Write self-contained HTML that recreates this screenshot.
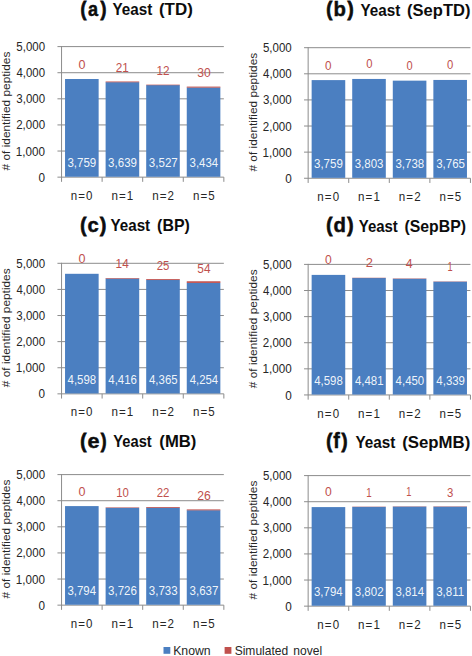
<!DOCTYPE html>
<html><head><meta charset="utf-8"><title>Yeast identified peptides</title>
<style>
html,body{margin:0;padding:0;background:#fff;}
body{width:472px;height:656px;overflow:hidden;}
svg{display:block;}
text{font-family:"Liberation Sans",sans-serif;}
.ax{fill:#262626;}
.wl{fill:#fff;fill-opacity:0.93;}
.rl{fill:#c0504d;}
.tb{fill:#0c0c0c;font-weight:bold;stroke:#0c0c0c;stroke-width:0.45px;}
.tp{fill:#0c0c0c;font-weight:bold;stroke:#0c0c0c;stroke-width:0.8px;}
.ts{fill:#0c0c0c;font-weight:bold;}
.lg{fill:#262626;}
</style></head><body>
<svg width="472" height="656" viewBox="0 0 472 656">
<rect x="0" y="0" width="472" height="656" fill="#fff"/>
<g id="chart-a">
<line x1="57.45" y1="46.60" x2="223.85" y2="46.60" stroke="#8c8c8c" stroke-width="1"/>
<line x1="57.45" y1="72.71" x2="223.85" y2="72.71" stroke="#8c8c8c" stroke-width="1"/>
<line x1="57.45" y1="98.82" x2="223.85" y2="98.82" stroke="#8c8c8c" stroke-width="1"/>
<line x1="57.45" y1="124.93" x2="223.85" y2="124.93" stroke="#8c8c8c" stroke-width="1"/>
<line x1="57.45" y1="151.04" x2="223.85" y2="151.04" stroke="#8c8c8c" stroke-width="1"/>
<line x1="57.45" y1="177.15" x2="223.85" y2="177.15" stroke="#8c8c8c" stroke-width="1"/>
<line x1="61.55" y1="46.10" x2="61.55" y2="181.85" stroke="#8c8c8c" stroke-width="1"/>
<line x1="102.12" y1="177.15" x2="102.12" y2="181.85" stroke="#8c8c8c" stroke-width="1"/>
<line x1="142.70" y1="177.15" x2="142.70" y2="181.85" stroke="#8c8c8c" stroke-width="1"/>
<line x1="183.28" y1="177.15" x2="183.28" y2="181.85" stroke="#8c8c8c" stroke-width="1"/>
<line x1="223.85" y1="177.15" x2="223.85" y2="181.85" stroke="#8c8c8c" stroke-width="1"/>
<rect x="65.04" y="79.00" width="33.60" height="97.75" fill="#4b7fc1"/>
<text class="wl" transform="translate(67.40,166.95) scale(0.9018,1)" font-size="12.80">3,759</text>
<text class="ax" transform="translate(70.77,199.75) scale(0.8944,1)" font-size="12.90" style="letter-spacing:1.20px;">n=0</text>
<text class="rl" transform="translate(78.51,68.68) scale(1.0333,1)" font-size="12.15">0</text>
<rect x="105.61" y="82.14" width="33.60" height="94.61" fill="#4b7fc1"/>
<rect x="105.61" y="81.49" width="33.60" height="0.80" fill="#c0504d"/>
<text class="wl" transform="translate(108.11,166.95) scale(0.9018,1)" font-size="12.80">3,639</text>
<text class="ax" transform="translate(111.48,199.75) scale(0.8993,1)" font-size="12.90" style="letter-spacing:1.20px;">n=1</text>
<text class="rl" transform="translate(115.81,71.87) scale(0.9240,1)" font-size="12.71">21</text>
<rect x="146.19" y="85.06" width="33.60" height="91.69" fill="#4b7fc1"/>
<rect x="146.19" y="84.65" width="33.60" height="0.56" fill="#c0504d"/>
<text class="wl" transform="translate(148.83,166.95) scale(0.9029,1)" font-size="12.80">3,527</text>
<text class="ax" transform="translate(152.20,199.75) scale(0.9000,1)" font-size="12.90" style="letter-spacing:1.20px;">n=2</text>
<text class="rl" transform="translate(156.40,74.67) scale(0.9155,1)" font-size="12.85">12</text>
<rect x="186.76" y="87.49" width="33.60" height="89.26" fill="#4b7fc1"/>
<rect x="186.76" y="86.60" width="33.60" height="1.03" fill="#c0504d"/>
<text class="wl" transform="translate(189.55,166.95) scale(0.8951,1)" font-size="12.80">3,434</text>
<text class="ax" transform="translate(192.92,199.75) scale(0.8958,1)" font-size="12.90" style="letter-spacing:1.20px;">n=5</text>
<text class="rl" transform="translate(197.24,77.17) scale(0.9395,1)" font-size="12.85">30</text>
<text class="ax" transform="translate(16.29,51.15) scale(0.8925,1)" font-size="12.90">5,000</text>
<text class="ax" transform="translate(16.49,77.26) scale(0.8862,1)" font-size="12.90">4,000</text>
<text class="ax" transform="translate(16.31,103.37) scale(0.8918,1)" font-size="12.90">3,000</text>
<text class="ax" transform="translate(16.17,129.48) scale(0.8963,1)" font-size="12.90">2,000</text>
<text class="ax" transform="translate(15.86,155.59) scale(0.9060,1)" font-size="12.90">1,000</text>
<text class="ax" transform="translate(38.59,181.70) scale(0.9081,1)" font-size="12.90">0</text>
<text class="ax" transform="translate(9.95,111.17) rotate(-90) translate(-59.25,0.00) scale(1.1533,1)" font-size="10.30"># of identified peptides</text>
<text class="tp" transform="translate(80.58,16.34) scale(0.8658,1)" font-size="20.26">(</text>
<text class="tb" transform="translate(87.89,16.17) scale(0.9234,1)" font-size="19.60">a</text>
<text class="tp" transform="translate(100.38,16.34) scale(0.8746,1)" font-size="20.26">)</text>
<text class="ts" transform="translate(112.54,14.60) scale(0.9641,1)" font-size="15.80">Yeast</text>
<text class="ts" transform="translate(158.96,14.60) scale(1.0465,1)" font-size="16.20">(TD)</text>
</g>
<g id="chart-b">
<line x1="304.05" y1="47.70" x2="470.45" y2="47.70" stroke="#8c8c8c" stroke-width="1"/>
<line x1="304.05" y1="73.81" x2="470.45" y2="73.81" stroke="#8c8c8c" stroke-width="1"/>
<line x1="304.05" y1="99.92" x2="470.45" y2="99.92" stroke="#8c8c8c" stroke-width="1"/>
<line x1="304.05" y1="126.03" x2="470.45" y2="126.03" stroke="#8c8c8c" stroke-width="1"/>
<line x1="304.05" y1="152.14" x2="470.45" y2="152.14" stroke="#8c8c8c" stroke-width="1"/>
<line x1="304.05" y1="178.25" x2="470.45" y2="178.25" stroke="#8c8c8c" stroke-width="1"/>
<line x1="308.15" y1="47.20" x2="308.15" y2="182.95" stroke="#8c8c8c" stroke-width="1"/>
<line x1="348.72" y1="178.25" x2="348.72" y2="182.95" stroke="#8c8c8c" stroke-width="1"/>
<line x1="389.30" y1="178.25" x2="389.30" y2="182.95" stroke="#8c8c8c" stroke-width="1"/>
<line x1="429.88" y1="178.25" x2="429.88" y2="182.95" stroke="#8c8c8c" stroke-width="1"/>
<line x1="470.45" y1="178.25" x2="470.45" y2="182.95" stroke="#8c8c8c" stroke-width="1"/>
<rect x="311.64" y="80.10" width="33.60" height="97.75" fill="#4b7fc1"/>
<text class="wl" transform="translate(314.00,168.05) scale(0.9018,1)" font-size="12.80">3,759</text>
<text class="ax" transform="translate(317.37,200.85) scale(0.8944,1)" font-size="12.90" style="letter-spacing:1.20px;">n=0</text>
<text class="rl" transform="translate(325.04,69.57) scale(0.9319,1)" font-size="12.57">0</text>
<rect x="352.21" y="78.95" width="33.60" height="98.90" fill="#4b7fc1"/>
<text class="wl" transform="translate(354.71,168.05) scale(0.9005,1)" font-size="12.80">3,803</text>
<text class="ax" transform="translate(358.08,200.85) scale(0.8993,1)" font-size="12.90" style="letter-spacing:1.20px;">n=1</text>
<text class="rl" transform="translate(366.36,68.07) scale(0.8986,1)" font-size="12.57">0</text>
<rect x="392.79" y="80.65" width="33.60" height="97.20" fill="#4b7fc1"/>
<text class="wl" transform="translate(395.43,168.05) scale(0.9004,1)" font-size="12.80">3,738</text>
<text class="ax" transform="translate(398.80,200.85) scale(0.9000,1)" font-size="12.90" style="letter-spacing:1.20px;">n=2</text>
<text class="rl" transform="translate(406.47,70.27) scale(0.8722,1)" font-size="12.71">0</text>
<rect x="433.36" y="79.95" width="33.60" height="97.90" fill="#4b7fc1"/>
<text class="wl" transform="translate(436.14,168.05) scale(0.8998,1)" font-size="12.80">3,765</text>
<text class="ax" transform="translate(439.52,200.85) scale(0.8958,1)" font-size="12.90" style="letter-spacing:1.20px;">n=5</text>
<text class="rl" transform="translate(446.96,69.08) scale(0.9193,1)" font-size="12.29">0</text>
<text class="ax" transform="translate(262.89,52.25) scale(0.8925,1)" font-size="12.90">5,000</text>
<text class="ax" transform="translate(263.09,78.36) scale(0.8862,1)" font-size="12.90">4,000</text>
<text class="ax" transform="translate(262.91,104.47) scale(0.8918,1)" font-size="12.90">3,000</text>
<text class="ax" transform="translate(262.77,130.58) scale(0.8963,1)" font-size="12.90">2,000</text>
<text class="ax" transform="translate(262.46,156.69) scale(0.9060,1)" font-size="12.90">1,000</text>
<text class="ax" transform="translate(285.19,182.80) scale(0.9081,1)" font-size="12.90">0</text>
<text class="ax" transform="translate(256.55,112.28) rotate(-90) translate(-59.25,0.00) scale(1.1533,1)" font-size="10.30"># of identified peptides</text>
<text class="tp" transform="translate(326.30,16.34) scale(0.8921,1)" font-size="20.26">(</text>
<text class="tb" transform="translate(333.58,16.17) scale(0.9874,1)" font-size="20.60">b</text>
<text class="tp" transform="translate(347.38,16.34) scale(0.9095,1)" font-size="20.26">)</text>
<text class="ts" transform="translate(360.54,15.60) scale(0.9641,1)" font-size="15.80">Yeast</text>
<text class="ts" transform="translate(407.08,15.60) scale(1.0202,1)" font-size="16.20">(SepTD)</text>
</g>
<g id="chart-c">
<line x1="57.45" y1="263.30" x2="223.85" y2="263.30" stroke="#8c8c8c" stroke-width="1"/>
<line x1="57.45" y1="289.41" x2="223.85" y2="289.41" stroke="#8c8c8c" stroke-width="1"/>
<line x1="57.45" y1="315.52" x2="223.85" y2="315.52" stroke="#8c8c8c" stroke-width="1"/>
<line x1="57.45" y1="341.63" x2="223.85" y2="341.63" stroke="#8c8c8c" stroke-width="1"/>
<line x1="57.45" y1="367.74" x2="223.85" y2="367.74" stroke="#8c8c8c" stroke-width="1"/>
<line x1="57.45" y1="393.85" x2="223.85" y2="393.85" stroke="#8c8c8c" stroke-width="1"/>
<line x1="61.55" y1="262.80" x2="61.55" y2="398.55" stroke="#8c8c8c" stroke-width="1"/>
<line x1="102.12" y1="393.85" x2="102.12" y2="398.55" stroke="#8c8c8c" stroke-width="1"/>
<line x1="142.70" y1="393.85" x2="142.70" y2="398.55" stroke="#8c8c8c" stroke-width="1"/>
<line x1="183.28" y1="393.85" x2="183.28" y2="398.55" stroke="#8c8c8c" stroke-width="1"/>
<line x1="223.85" y1="393.85" x2="223.85" y2="398.55" stroke="#8c8c8c" stroke-width="1"/>
<rect x="65.04" y="273.80" width="33.60" height="119.65" fill="#4b7fc1"/>
<text class="wl" transform="translate(67.57,383.65) scale(0.8948,1)" font-size="12.80">4,598</text>
<text class="ax" transform="translate(70.77,416.45) scale(0.8944,1)" font-size="12.90" style="letter-spacing:1.20px;">n=0</text>
<text class="rl" transform="translate(78.51,263.18) scale(1.0455,1)" font-size="12.01">0</text>
<rect x="105.61" y="278.55" width="33.60" height="114.90" fill="#4b7fc1"/>
<rect x="105.61" y="278.08" width="33.60" height="0.62" fill="#c0504d"/>
<text class="wl" transform="translate(108.29,383.65) scale(0.8949,1)" font-size="12.80">4,416</text>
<text class="ax" transform="translate(111.48,416.45) scale(0.8993,1)" font-size="12.90" style="letter-spacing:1.20px;">n=1</text>
<text class="rl" transform="translate(115.60,268.37) scale(0.9402,1)" font-size="12.57">14</text>
<rect x="146.19" y="279.88" width="33.60" height="113.57" fill="#4b7fc1"/>
<rect x="146.19" y="279.13" width="33.60" height="0.90" fill="#c0504d"/>
<text class="wl" transform="translate(149.00,383.65) scale(0.8942,1)" font-size="12.80">4,365</text>
<text class="ax" transform="translate(152.20,416.45) scale(0.9000,1)" font-size="12.90" style="letter-spacing:1.20px;">n=2</text>
<text class="rl" transform="translate(156.73,269.97) scale(0.8848,1)" font-size="12.85">25</text>
<rect x="186.76" y="282.78" width="33.60" height="110.67" fill="#4b7fc1"/>
<rect x="186.76" y="281.27" width="33.60" height="1.66" fill="#c0504d"/>
<text class="wl" transform="translate(189.72,383.65) scale(0.8896,1)" font-size="12.80">4,254</text>
<text class="ax" transform="translate(192.92,416.45) scale(0.8958,1)" font-size="12.90" style="letter-spacing:1.20px;">n=5</text>
<text class="rl" transform="translate(197.32,272.77) scale(0.9250,1)" font-size="12.85">54</text>
<text class="ax" transform="translate(16.29,267.85) scale(0.8925,1)" font-size="12.90">5,000</text>
<text class="ax" transform="translate(16.49,293.96) scale(0.8862,1)" font-size="12.90">4,000</text>
<text class="ax" transform="translate(16.31,320.07) scale(0.8918,1)" font-size="12.90">3,000</text>
<text class="ax" transform="translate(16.17,346.18) scale(0.8963,1)" font-size="12.90">2,000</text>
<text class="ax" transform="translate(15.86,372.29) scale(0.9060,1)" font-size="12.90">1,000</text>
<text class="ax" transform="translate(38.59,398.40) scale(0.9081,1)" font-size="12.90">0</text>
<text class="ax" transform="translate(9.95,327.88) rotate(-90) translate(-59.25,0.00) scale(1.1533,1)" font-size="10.30"># of identified peptides</text>
<text class="tp" transform="translate(80.28,232.29) scale(0.9000,1)" font-size="20.47">(</text>
<text class="tb" transform="translate(87.44,232.18) scale(1.0303,1)" font-size="19.60">c</text>
<text class="tp" transform="translate(100.08,232.29) scale(0.9173,1)" font-size="20.47">)</text>
<text class="ts" transform="translate(110.54,231.20) scale(0.9593,1)" font-size="15.80">Yeast</text>
<text class="ts" transform="translate(157.11,231.20) scale(0.9817,1)" font-size="16.20">(BP)</text>
</g>
<g id="chart-d">
<line x1="304.05" y1="264.40" x2="470.45" y2="264.40" stroke="#8c8c8c" stroke-width="1"/>
<line x1="304.05" y1="290.51" x2="470.45" y2="290.51" stroke="#8c8c8c" stroke-width="1"/>
<line x1="304.05" y1="316.62" x2="470.45" y2="316.62" stroke="#8c8c8c" stroke-width="1"/>
<line x1="304.05" y1="342.73" x2="470.45" y2="342.73" stroke="#8c8c8c" stroke-width="1"/>
<line x1="304.05" y1="368.84" x2="470.45" y2="368.84" stroke="#8c8c8c" stroke-width="1"/>
<line x1="304.05" y1="394.95" x2="470.45" y2="394.95" stroke="#8c8c8c" stroke-width="1"/>
<line x1="308.15" y1="263.90" x2="308.15" y2="399.65" stroke="#8c8c8c" stroke-width="1"/>
<line x1="348.72" y1="394.95" x2="348.72" y2="399.65" stroke="#8c8c8c" stroke-width="1"/>
<line x1="389.30" y1="394.95" x2="389.30" y2="399.65" stroke="#8c8c8c" stroke-width="1"/>
<line x1="429.88" y1="394.95" x2="429.88" y2="399.65" stroke="#8c8c8c" stroke-width="1"/>
<line x1="470.45" y1="394.95" x2="470.45" y2="399.65" stroke="#8c8c8c" stroke-width="1"/>
<rect x="311.64" y="274.90" width="33.60" height="119.65" fill="#4b7fc1"/>
<text class="wl" transform="translate(314.17,384.75) scale(0.8948,1)" font-size="12.80">4,598</text>
<text class="ax" transform="translate(317.37,417.55) scale(0.8944,1)" font-size="12.90" style="letter-spacing:1.20px;">n=0</text>
<text class="rl" transform="translate(325.03,264.08) scale(1.0106,1)" font-size="12.01">0</text>
<rect x="352.21" y="277.95" width="33.60" height="116.60" fill="#4b7fc1"/>
<rect x="352.21" y="277.80" width="33.60" height="0.30" fill="#c0504d"/>
<text class="wl" transform="translate(354.89,384.75) scale(0.8967,1)" font-size="12.80">4,481</text>
<text class="ax" transform="translate(358.08,417.55) scale(0.8993,1)" font-size="12.90" style="letter-spacing:1.20px;">n=1</text>
<text class="rl" transform="translate(365.65,267.28) scale(1.0420,1)" font-size="12.43">2</text>
<rect x="392.79" y="278.76" width="33.60" height="115.79" fill="#4b7fc1"/>
<rect x="392.79" y="278.56" width="33.60" height="0.35" fill="#c0504d"/>
<text class="wl" transform="translate(395.61,384.75) scale(0.8932,1)" font-size="12.80">4,450</text>
<text class="ax" transform="translate(398.80,417.55) scale(0.9000,1)" font-size="12.90" style="letter-spacing:1.20px;">n=2</text>
<text class="rl" transform="translate(405.72,268.28) scale(1.0129,1)" font-size="12.15">4</text>
<rect x="433.36" y="281.66" width="33.60" height="112.89" fill="#4b7fc1"/>
<rect x="433.36" y="281.53" width="33.60" height="0.28" fill="#c0504d"/>
<text class="wl" transform="translate(436.32,384.75) scale(0.8962,1)" font-size="12.80">4,339</text>
<text class="ax" transform="translate(439.52,417.55) scale(0.8958,1)" font-size="12.90" style="letter-spacing:1.20px;">n=5</text>
<text class="rl" transform="translate(447.49,271.28) scale(0.7638,1)" font-size="12.15">1</text>
<text class="ax" transform="translate(262.89,268.95) scale(0.8925,1)" font-size="12.90">5,000</text>
<text class="ax" transform="translate(263.09,295.06) scale(0.8862,1)" font-size="12.90">4,000</text>
<text class="ax" transform="translate(262.91,321.17) scale(0.8918,1)" font-size="12.90">3,000</text>
<text class="ax" transform="translate(262.77,347.28) scale(0.8963,1)" font-size="12.90">2,000</text>
<text class="ax" transform="translate(262.46,373.39) scale(0.9060,1)" font-size="12.90">1,000</text>
<text class="ax" transform="translate(285.19,399.50) scale(0.9081,1)" font-size="12.90">0</text>
<text class="ax" transform="translate(256.55,328.97) rotate(-90) translate(-59.25,0.00) scale(1.1533,1)" font-size="10.30"># of identified peptides</text>
<text class="tp" transform="translate(326.18,232.29) scale(0.9000,1)" font-size="20.47">(</text>
<text class="tb" transform="translate(333.39,232.18) scale(0.9874,1)" font-size="20.60">d</text>
<text class="tp" transform="translate(347.28,232.29) scale(0.9173,1)" font-size="20.47">)</text>
<text class="ts" transform="translate(358.74,232.40) scale(0.9473,1)" font-size="15.80">Yeast</text>
<text class="ts" transform="translate(404.51,232.40) scale(0.9773,1)" font-size="16.20">(SepBP)</text>
</g>
<g id="chart-e">
<line x1="57.45" y1="474.60" x2="223.85" y2="474.60" stroke="#8c8c8c" stroke-width="1"/>
<line x1="57.45" y1="500.71" x2="223.85" y2="500.71" stroke="#8c8c8c" stroke-width="1"/>
<line x1="57.45" y1="526.82" x2="223.85" y2="526.82" stroke="#8c8c8c" stroke-width="1"/>
<line x1="57.45" y1="552.93" x2="223.85" y2="552.93" stroke="#8c8c8c" stroke-width="1"/>
<line x1="57.45" y1="579.04" x2="223.85" y2="579.04" stroke="#8c8c8c" stroke-width="1"/>
<line x1="57.45" y1="605.15" x2="223.85" y2="605.15" stroke="#8c8c8c" stroke-width="1"/>
<line x1="61.55" y1="474.10" x2="61.55" y2="609.85" stroke="#8c8c8c" stroke-width="1"/>
<line x1="102.12" y1="605.15" x2="102.12" y2="609.85" stroke="#8c8c8c" stroke-width="1"/>
<line x1="142.70" y1="605.15" x2="142.70" y2="609.85" stroke="#8c8c8c" stroke-width="1"/>
<line x1="183.28" y1="605.15" x2="183.28" y2="609.85" stroke="#8c8c8c" stroke-width="1"/>
<line x1="223.85" y1="605.15" x2="223.85" y2="609.85" stroke="#8c8c8c" stroke-width="1"/>
<rect x="65.04" y="506.09" width="33.60" height="98.66" fill="#4b7fc1"/>
<text class="wl" transform="translate(67.40,594.95) scale(0.8951,1)" font-size="12.80">3,794</text>
<text class="ax" transform="translate(70.77,627.75) scale(0.8944,1)" font-size="12.90" style="letter-spacing:1.20px;">n=0</text>
<text class="rl" transform="translate(78.51,495.78) scale(1.0455,1)" font-size="12.01">0</text>
<rect x="105.61" y="507.86" width="33.60" height="96.89" fill="#4b7fc1"/>
<rect x="105.61" y="507.50" width="33.60" height="0.51" fill="#c0504d"/>
<text class="wl" transform="translate(108.11,594.95) scale(0.9005,1)" font-size="12.80">3,726</text>
<text class="ax" transform="translate(111.48,627.75) scale(0.8993,1)" font-size="12.90" style="letter-spacing:1.20px;">n=1</text>
<text class="rl" transform="translate(116.24,497.38) scale(0.9118,1)" font-size="12.43">10</text>
<rect x="146.19" y="507.68" width="33.60" height="97.07" fill="#4b7fc1"/>
<rect x="146.19" y="507.01" width="33.60" height="0.82" fill="#c0504d"/>
<text class="wl" transform="translate(148.83,594.95) scale(0.9005,1)" font-size="12.80">3,733</text>
<text class="ax" transform="translate(152.20,627.75) scale(0.9000,1)" font-size="12.90" style="letter-spacing:1.20px;">n=2</text>
<text class="rl" transform="translate(156.72,497.37) scale(0.8921,1)" font-size="12.85">22</text>
<rect x="186.76" y="510.19" width="33.60" height="94.56" fill="#4b7fc1"/>
<rect x="186.76" y="509.41" width="33.60" height="0.93" fill="#c0504d"/>
<text class="wl" transform="translate(189.54,594.95) scale(0.9029,1)" font-size="12.80">3,637</text>
<text class="ax" transform="translate(192.92,627.75) scale(0.8958,1)" font-size="12.90" style="letter-spacing:1.20px;">n=5</text>
<text class="rl" transform="translate(197.19,499.87) scale(0.9373,1)" font-size="12.99">26</text>
<text class="ax" transform="translate(16.29,479.15) scale(0.8925,1)" font-size="12.90">5,000</text>
<text class="ax" transform="translate(16.49,505.26) scale(0.8862,1)" font-size="12.90">4,000</text>
<text class="ax" transform="translate(16.31,531.37) scale(0.8918,1)" font-size="12.90">3,000</text>
<text class="ax" transform="translate(16.17,557.48) scale(0.8963,1)" font-size="12.90">2,000</text>
<text class="ax" transform="translate(15.86,583.59) scale(0.9060,1)" font-size="12.90">1,000</text>
<text class="ax" transform="translate(38.59,609.70) scale(0.9081,1)" font-size="12.90">0</text>
<text class="ax" transform="translate(9.95,539.17) rotate(-90) translate(-59.25,0.00) scale(1.1533,1)" font-size="10.30"># of identified peptides</text>
<text class="tp" transform="translate(80.28,448.01) scale(0.9048,1)" font-size="20.36">(</text>
<text class="tb" transform="translate(87.38,447.88) scale(1.1041,1)" font-size="19.60">e</text>
<text class="tp" transform="translate(100.78,448.01) scale(0.8526,1)" font-size="20.36">)</text>
<text class="ts" transform="translate(113.35,447.40) scale(0.9305,1)" font-size="15.80">Yeast</text>
<text class="ts" transform="translate(159.37,447.40) scale(1.0300,1)" font-size="16.20">(MB)</text>
</g>
<g id="chart-f">
<line x1="304.05" y1="475.60" x2="470.45" y2="475.60" stroke="#8c8c8c" stroke-width="1"/>
<line x1="304.05" y1="501.71" x2="470.45" y2="501.71" stroke="#8c8c8c" stroke-width="1"/>
<line x1="304.05" y1="527.82" x2="470.45" y2="527.82" stroke="#8c8c8c" stroke-width="1"/>
<line x1="304.05" y1="553.93" x2="470.45" y2="553.93" stroke="#8c8c8c" stroke-width="1"/>
<line x1="304.05" y1="580.04" x2="470.45" y2="580.04" stroke="#8c8c8c" stroke-width="1"/>
<line x1="304.05" y1="606.15" x2="470.45" y2="606.15" stroke="#8c8c8c" stroke-width="1"/>
<line x1="308.15" y1="475.10" x2="308.15" y2="610.85" stroke="#8c8c8c" stroke-width="1"/>
<line x1="348.72" y1="606.15" x2="348.72" y2="610.85" stroke="#8c8c8c" stroke-width="1"/>
<line x1="389.30" y1="606.15" x2="389.30" y2="610.85" stroke="#8c8c8c" stroke-width="1"/>
<line x1="429.88" y1="606.15" x2="429.88" y2="610.85" stroke="#8c8c8c" stroke-width="1"/>
<line x1="470.45" y1="606.15" x2="470.45" y2="610.85" stroke="#8c8c8c" stroke-width="1"/>
<rect x="311.64" y="507.09" width="33.60" height="98.66" fill="#4b7fc1"/>
<text class="wl" transform="translate(314.00,595.95) scale(0.8951,1)" font-size="12.80">3,794</text>
<text class="ax" transform="translate(317.37,628.75) scale(0.8944,1)" font-size="12.90" style="letter-spacing:1.20px;">n=0</text>
<text class="rl" transform="translate(325.03,496.38) scale(0.9989,1)" font-size="12.15">0</text>
<rect x="352.21" y="506.88" width="33.60" height="98.87" fill="#4b7fc1"/>
<rect x="352.21" y="506.75" width="33.60" height="0.28" fill="#c0504d"/>
<text class="wl" transform="translate(354.71,595.95) scale(0.9029,1)" font-size="12.80">3,802</text>
<text class="ax" transform="translate(358.08,628.75) scale(0.8993,1)" font-size="12.90" style="letter-spacing:1.20px;">n=1</text>
<text class="rl" transform="translate(366.26,496.68) scale(0.8114,1)" font-size="12.01">1</text>
<rect x="392.79" y="506.57" width="33.60" height="99.18" fill="#4b7fc1"/>
<rect x="392.79" y="506.44" width="33.60" height="0.28" fill="#c0504d"/>
<text class="wl" transform="translate(395.43,595.95) scale(0.8951,1)" font-size="12.80">3,814</text>
<text class="ax" transform="translate(398.80,628.75) scale(0.9000,1)" font-size="12.90" style="letter-spacing:1.20px;">n=2</text>
<text class="rl" transform="translate(406.29,496.48) scale(0.7638,1)" font-size="12.15">1</text>
<rect x="433.36" y="506.64" width="33.60" height="99.11" fill="#4b7fc1"/>
<rect x="433.36" y="506.47" width="33.60" height="0.33" fill="#c0504d"/>
<text class="wl" transform="translate(436.14,595.95) scale(0.9024,1)" font-size="12.80">3,811</text>
<text class="ax" transform="translate(439.52,628.75) scale(0.8958,1)" font-size="12.90" style="letter-spacing:1.20px;">n=5</text>
<text class="rl" transform="translate(446.97,496.68) scale(0.9163,1)" font-size="12.43">3</text>
<text class="ax" transform="translate(262.89,480.15) scale(0.8925,1)" font-size="12.90">5,000</text>
<text class="ax" transform="translate(263.09,506.26) scale(0.8862,1)" font-size="12.90">4,000</text>
<text class="ax" transform="translate(262.91,532.37) scale(0.8918,1)" font-size="12.90">3,000</text>
<text class="ax" transform="translate(262.77,558.48) scale(0.8963,1)" font-size="12.90">2,000</text>
<text class="ax" transform="translate(262.46,584.59) scale(0.9060,1)" font-size="12.90">1,000</text>
<text class="ax" transform="translate(285.19,610.70) scale(0.9081,1)" font-size="12.90">0</text>
<text class="ax" transform="translate(256.55,540.17) rotate(-90) translate(-59.25,0.00) scale(1.1533,1)" font-size="10.30"># of identified peptides</text>
<text class="tp" transform="translate(326.30,448.09) scale(0.8827,1)" font-size="20.47">(</text>
<text class="tb" transform="translate(333.29,447.88) scale(0.9103,1)" font-size="21.60">f</text>
<text class="tp" transform="translate(341.48,448.09) scale(0.8827,1)" font-size="20.47">)</text>
<text class="ts" transform="translate(355.44,447.50) scale(0.9665,1)" font-size="15.80">Yeast</text>
<text class="ts" transform="translate(402.16,447.50) scale(1.0378,1)" font-size="16.20">(SepMB)</text>
</g>
<rect x="163.5" y="647" width="6.8" height="6.8" fill="#4b7fc1"/>
<text class="lg" transform="translate(173.19,654.70) scale(0.9292,1)" font-size="13.20">Known</text>
<rect x="224.6" y="647" width="6.8" height="6.8" fill="#c0504d"/>
<text class="lg" transform="translate(234.65,654.70) scale(0.9128,1)" font-size="13.20" style="word-spacing:2.00px;">Simulated novel</text>
</svg></body></html>
